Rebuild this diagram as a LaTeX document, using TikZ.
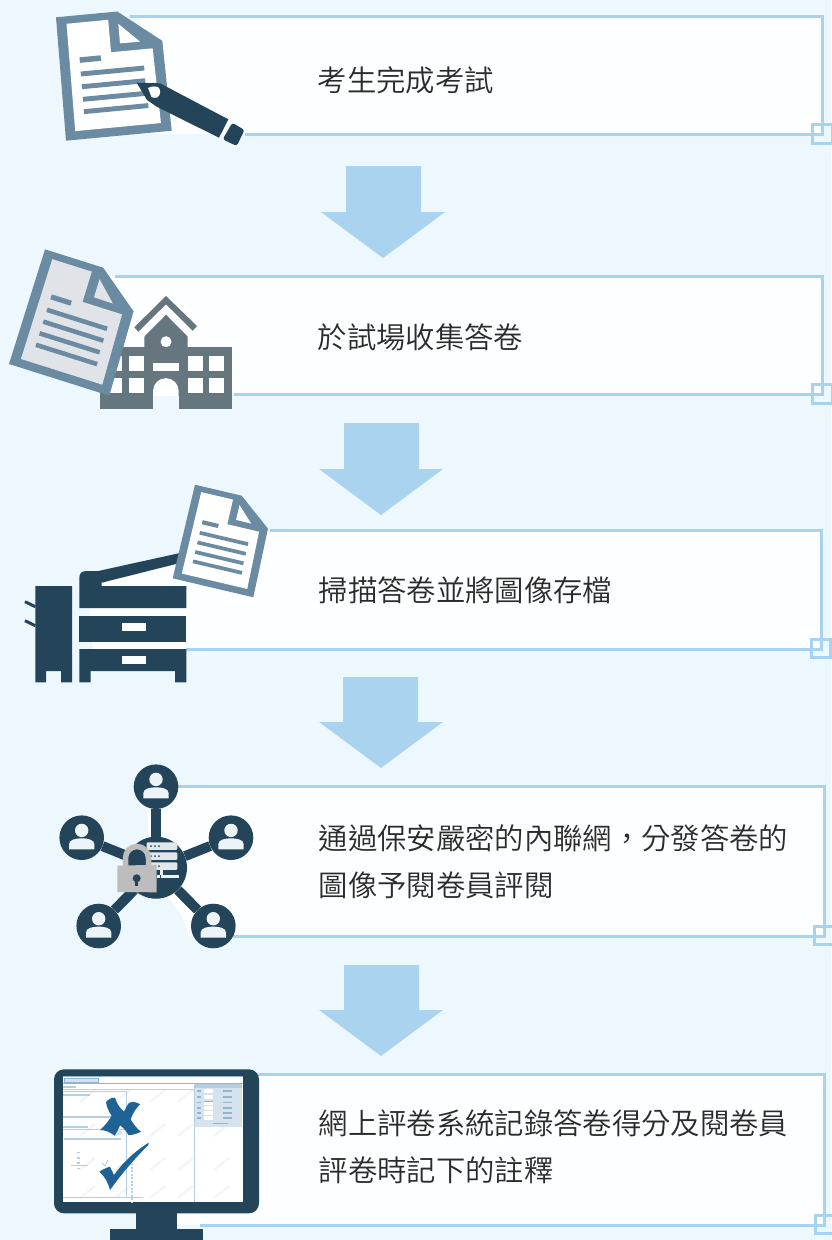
\documentclass[tikz,border=0pt]{standalone}
\usepackage{fontspec}
\newfontfamily\cjk{Noto Sans CJK TC DemiLight}
\definecolor{bgc}{HTML}{ECF8FD}
\definecolor{boxfill}{HTML}{FDFEFF}
\definecolor{linec}{HTML}{A8D3F0}
\definecolor{arrowc}{HTML}{AAD3F0}
\definecolor{navy}{HTML}{24445A}
\definecolor{docc}{HTML}{6B8BA3}
\definecolor{docin}{HTML}{E0E4E8}
\definecolor{schoolc}{HTML}{66767E}
\definecolor{txt}{HTML}{2B2B2B}
\definecolor{markc}{HTML}{1F6396}
\definecolor{scrl}{HTML}{B4CFE2}
\definecolor{scrd}{HTML}{8FB5D0}
\definecolor{scrinner}{HTML}{D5E3EE}
\definecolor{wmark}{HTML}{F2F6F9}
\definecolor{lockc}{HTML}{BDBDBD}
\definecolor{personc}{HTML}{ECF4F8}
\tikzset{
  edgeline/.style={draw=linec,line width=3pt},
  cornerbox/.style={draw=linec,line width=3pt,fill=none},
  blockarrow/.style={fill=arrowc,draw=none},
  steptext/.style={anchor=west,inner sep=0pt,text=txt,font=\cjk\fontsize{29.35}{47}\selectfont,align=left},
  hubnode/.style={circle,fill=navy,minimum size=62pt,inner sep=0pt},
  usernode/.style={circle,fill=navy,minimum size=44.6pt,inner sep=0pt},
  spoke/.style={draw=navy,line width=10pt},
  docline/.style={draw=docc}
}
\newcommand{\docicon}[7]{% TLx TLy Ux Uy Vx Vy innerfill (pixel vectors, y down)
\begin{scope}[shift={(#1,#2)},x={(#3pt,{-1*(#4)*1pt})},y={(#5pt,{-1*(#6)*1pt})}]
  \fill[docc] (0,0) -- (.58,0) -- (.98,.27) -- (1,1) -- (0,1) -- cycle;
  \fill[#7] (.094,.06) -- (.488,.06) -- (.49,.323) -- (.884,.323) -- (.905,.93) -- (.094,.93) -- cycle;
  \fill[#7] (.58,.10) -- (.77,.26) -- (.581,.258) -- cycle;
  \draw[docline,line width=.045*#6 pt] (.19,.362) -- (.39,.362);
  \draw[docline,line width=.04*#6 pt] (.19,.475) -- (.79,.475);
  \draw[docline,line width=.04*#6 pt] (.19,.578) -- (.79,.578);
  \draw[docline,line width=.04*#6 pt] (.19,.68) -- (.79,.68);
  \draw[docline,line width=.04*#6 pt] (.19,.78) -- (.8,.78);
\end{scope}}
\newcommand{\blockarr}[6]{% shaft l, shaft r, top, neck y, head l, head r; tip 46 below neck
  \fill[blockarrow] (#1,#3) -- (#2,#3) -- (#2,#4) -- (#6,#4) -- ({(#5+#6)/2},{#4+46}) -- (#5,#4) -- (#1,#4) -- cycle;
}
\newcommand{\person}[2]{%
  \fill[personc] (#1,#2-7.3) circle (6.7);
  \fill[personc] (#1-12.7,#2+11.6) -- (#1-12.7,#2+6.5) .. controls (#1-12.7,#2+2) and (#1-6,#2+0.6) .. (#1,#2+0.6) .. controls (#1+6,#2+0.6) and (#1+12.7,#2+2) .. (#1+12.7,#2+6.5) -- (#1+12.7,#2+11.6) -- cycle;
}
\begin{document}
\begin{tikzpicture}[x=1pt,y=-1pt]
\useasboundingbox (0,0) rectangle (831,1240);
\fill[bgc] (0,0) rectangle (831,1240);
% box fills
\fill[boxfill] (140,16) rectangle (822,134);
\fill[boxfill] (110,276) rectangle (822,394);
\fill[boxfill] (262,530) -- (821,530) -- (821,649) -- (93,649) -- (90,610) -- (100,582) -- (178,558) -- (262,540) -- cycle;
\fill[boxfill] (147,786) -- (824,786) -- (824,936) -- (188,936) .. controls (186,915) and (170,900) .. (158,885) .. controls (150,870) and (147,830) .. (147,786) -- cycle;
\fill[boxfill] (177,1074) rectangle (824,1225);
% box edges
\coordinate (t1) at (130,16); \coordinate (r1) at (822,16); \coordinate (s1) at (822,134); \coordinate (b1) at (245,134);
\draw[edgeline] (t1) -- (r1) -- (s1) -- (b1);
\coordinate (t2) at (115,276); \coordinate (r2) at (822,276); \coordinate (s2) at (822,394); \coordinate (b2) at (234,394);
\draw[edgeline] (t2) -- (r2) -- (s2) -- (b2);
\coordinate (t3) at (270,530); \coordinate (r3) at (821,530); \coordinate (s3) at (821,649); \coordinate (b3) at (186,649);
\draw[edgeline] (t3) -- (r3) -- (s3) -- (b3);
\coordinate (t4) at (178,786); \coordinate (r4) at (824,786); \coordinate (s4) at (824,936); \coordinate (b4) at (233,936);
\draw[edgeline] (t4) -- (r4) -- (s4) -- (b4);
\coordinate (t5) at (258,1074); \coordinate (r5) at (824,1074); \coordinate (s5) at (824,1225); \coordinate (b5) at (200,1225);
\draw[edgeline] (t5) -- (r5) -- (s5) -- (b5);
% corner squares
\draw[cornerbox] (812.5,124.5) rectangle (832,143);
\draw[cornerbox] (812.5,384.5) rectangle (832,403);
\draw[cornerbox] (811,639) rectangle (830,657);
\draw[cornerbox] (814.5,926) rectangle (833,944);
\draw[cornerbox] (815,1215) rectangle (833,1233);
% arrows
\blockarr{346}{421}{166}{212}{321}{445}
\blockarr{344}{419}{423}{469}{319}{443}
\blockarr{343}{418}{677}{722}{319}{443}
\blockarr{344}{419}{965}{1010}{319}{443}
% texts
\node[steptext] (s-a) at (317.5,80) {考生完成考試};
\node[steptext] (s-b) at (317.5,337) {於試場收集答卷};
\node[steptext] (s-c) at (318.5,590) {掃描答卷並將圖像存檔};
\node[steptext] (s-d) at (318.5,861.5) {通過保安嚴密的內聯網\char"FF0C\relax 分發答卷的\\圖像予閱卷員評閱};
\node[steptext] (s-e) at (318.5,1146.5) {網上評卷系統記錄答卷得分及閱卷員\\評卷時記下的註釋};
% icon 1
\docicon{56}{17.3}{105.7}{-10}{10}{123.4}{white}
\fill[navy] (136.7,82.7) -- (160,83.3) -- (228.3,119.3) -- (219,137.7) -- (156.7,106.7) -- (147,100) -- cycle;
\fill[white] (148,88) .. controls (152,86) and (156,86) .. (158.5,87.5) .. controls (161,90) and (161,95) .. (157,97.5) .. controls (155,98) and (153,98) .. (151.5,97) -- cycle;
\fill[navy,rounded corners=2.5pt] (232.3,122.7) -- (244.5,130) -- (236.7,146) -- (222.7,139.3) -- cycle;
% school
\begin{scope}
\fill[schoolc] (100.3,347) rectangle (231.7,409);
\fill[schoolc] (144.3,348) -- (144.3,336.7) -- (166,314.7) -- (187.7,336.7) -- (187.7,348) -- cycle;
\fill[schoolc] (134.3,327.3) -- (166,296) -- (197,326) -- (192.7,330.7) -- (166,304.3) -- (138.3,331.7) -- cycle;
\fill[white] (166,341.7) circle (5.5);
\foreach \xa in {107.3,129.3,187.7,209.3} {
  \fill[boxfill] (\xa,356) rectangle ++(15,15);
  \fill[boxfill] (\xa,378) rectangle ++(15,14.7);
}
\fill[boxfill] (153,363.3) rectangle (178.7,370.7);
\fill[boxfill] (153,409) -- (153,391) arc[start angle=180,end angle=360,radius=12.85] -- (178.7,409) -- cycle;
\fill[bgc] (153,395.5) rectangle (178.7,409);
\end{scope}
\docicon{45}{249.3}{100.3}{31.7}{-36}{114.7}{docin}
% printer
\fill[navy] (35.3,586) -- (72,586) -- (72,682.3) -- (61,682.3) -- (61,671) -- (46,671) -- (46,682.3) -- (35.3,682.3) -- cycle;
\draw[navy,line width=3pt] (25,601.7) -- (35.3,606.7);
\draw[navy,line width=3pt] (25,620.7) -- (35.3,625.7);
\fill[navy] (79.3,608) -- (79.3,578) .. controls (79.3,573) and (82,571) .. (86.7,571) -- (98.3,571) -- (180,553) -- (180,563) -- (101.7,582.7) -- (101.7,586) -- (186.3,586) -- (186.3,608) -- cycle;
\fill[navy] (79.3,615.7) rectangle (186.3,641.7);
\fill[boxfill] (121.7,623) rectangle (146,630.7);
\fill[navy] (79.3,649) -- (186.3,649) -- (186.3,682.3) -- (175,682.3) -- (175,671) -- (90.7,671) -- (90.7,682.3) -- (79.3,682.3) -- cycle;
\fill[boxfill] (121.7,656.3) rectangle (146,664);
\docicon{195}{484.7}{80.6}{19}{-22.3}{93.6}{white}
% network
\node[hubnode] (hub) at (156,867.7) {};
\node[usernode] (u1) at (156,786.7) {};
\node[usernode] (u2) at (81.7,837.7) {};
\node[usernode] (u3) at (231,837.7) {};
\node[usernode] (u4) at (98.7,926) {};
\node[usernode] (u5) at (213.3,926) {};
\foreach \u in {u1,u2,u3,u4,u5} \draw[spoke] (hub) -- (\u);
\person{156}{786.7}\person{81.7}{837.7}\person{231}{837.7}\person{98.7}{926}\person{213.3}{926}
% server
\foreach \ya in {842.3,852.3,862.3} {
  \fill[personc!90!gray,rounded corners=1pt] (146.7,\ya) rectangle (177.3,\ya+7.5);
  \foreach \xa in {151,155,159} \fill[navy] (\xa,\ya+3.7) circle (1);
}
\fill[personc] (160,869.5) rectangle (162.7,875);
\fill[personc] (156.7,875) rectangle (179,878);
\fill[navy] (160,875) rectangle (161,878);
% lock
\draw[lockc,line width=5.5pt] (125.5,866) -- (125.5,858) arc[start angle=180,end angle=360,radius=11.5] -- (148.5,866);
\fill[lockc] (117.3,865.7) -- (156.7,864.7) -- (156.7,892.3) -- (117.3,892) -- cycle;
\fill[navy] (136.7,878.3) circle (4);
\fill[navy] (135.3,878) rectangle (138.1,886);
% monitor
\fill[navy,rounded corners=10pt] (54,1069.3) rectangle (259,1213.3);
\fill[navy] (136,1213) rectangle (177,1229.5);
\fill[navy] (110.3,1229) rectangle (202.7,1240);
\fill[white] (63,1076) rectangle (243,1201.7);
% watermark
\foreach \xa in {80,115,150,178,214} \foreach \ya in {1096,1130,1164,1192} {
  \draw[wmark,line width=2.5pt] (\xa,\ya+6) -- (\xa+15,\ya-6);
}
% panel
\fill[scrinner] (194,1083) rectangle (241.7,1127);
\fill[scrl] (194,1083) rectangle (241.7,1088);
\fill[scrl!60!white] (64,1078) rectangle (98,1082.5);
\draw[scrd,line width=.7pt] (64,1078) rectangle (98,1082.5);
\draw[scrd,line width=1pt] (63,1076.3) -- (243,1076.3);
\draw[scrd,line width=1.5pt] (63,1083.5) -- (243,1083.5);
\draw[scrl,line width=1pt] (63,1089.5) -- (194,1089.5);
\draw[scrl,line width=1pt] (63,1091.7) -- (126.7,1091.7) -- (126.7,1197);
\draw[scrl,line width=1pt] (194,1083) -- (194,1201.7);
\draw[scrl,line width=1.8pt] (63,1117) -- (126.7,1117);
\draw[scrl,line width=1pt] (63,1129) -- (126.7,1129);
\draw[scrl,line width=1pt] (63,1197.3) -- (143,1197.3);
\draw[scrl,dash pattern=on 2pt off 1.5pt,line width=2pt] (131.7,1163) -- (131.7,1201.7);
\draw[scrl,line width=1.6pt] (63,1086.8) -- (76,1086.8);
\draw[scrl,line width=1.6pt] (63,1095) -- (90,1095);
\draw[scrl,line width=1.6pt] (63,1126.7) -- (88,1126.7);
\draw[scrl,line width=1.6pt] (64,1139) -- (121,1139);
\draw[scrl,line width=.8pt] (71,1165.3) -- (87.7,1165.3);
\foreach \ya in {1152.5,1158,1163,1168.5} \draw[scrl,line width=1.4pt] (77,\ya) -- (80,\ya);
\draw[scrl,line width=1pt] (102,1163) -- (105,1166) -- (108,1160);
\foreach \ya in {1091,1097,1102.5,1108,1113,1118} {
  \draw[scrd,line width=1.3pt] (197,\ya) -- (201,\ya);
  \draw[white,line width=4pt] (203.5,\ya) -- (213,\ya);
  \draw[scrd,line width=1.3pt] (223,\ya) -- (232,\ya);
}
\draw[scrd,line width=1pt] (203.5,1101) -- (213,1101);
\draw[scrd,line width=1pt] (213,1123) -- (228,1123);
% marks
\begin{scope}[shift={(40,1060)},x=.3333pt,y=-.3333pt]
\fill[scrinner] (205,195) -- (225,175) -- (248,222) -- (225,228) -- cycle;
\fill[markc] (198,126) .. controls (205,118) and (215,112) .. (225,113) .. controls (230,130) and (240,145) .. (252,155) .. controls (258,145) and (262,133) .. (268,128) .. controls (280,124) and (292,127) .. (300,133) .. controls (288,145) and (278,160) .. (272,178) .. controls (282,195) and (292,207) .. (303,215) .. controls (290,222) and (278,225) .. (265,225) .. controls (258,212) and (250,203) .. (240,196) .. controls (235,208) and (230,218) .. (224,227) .. controls (210,216) and (195,210) .. (180,210) .. controls (195,197) and (206,183) .. (215,167) .. controls (206,155) and (200,140) .. (198,126) -- cycle;
\fill[markc] (178,335) .. controls (190,328) and (200,322) .. (210,320) .. controls (215,330) and (218,338) .. (222,345) .. controls (250,305) and (290,270) .. (326,248) -- (325,255) .. controls (285,295) and (250,335) .. (210,390) .. controls (205,370) and (195,350) .. (178,335) -- cycle;
\end{scope}
\end{tikzpicture}
\end{document}
